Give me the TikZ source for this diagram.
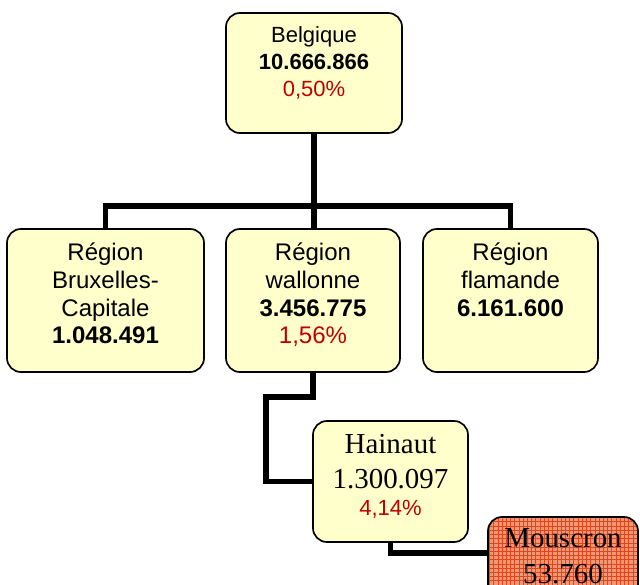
\documentclass[tikz,border=0pt]{standalone}
\usepackage{fontspec}
\setmainfont{Liberation Sans}
\newfontfamily\timesfam{Liberation Serif}
\usetikzlibrary{patterns}
\definecolor{boxfill}{RGB}{255,255,204}
\definecolor{pctred}{RGB}{192,0,0}
\definecolor{moufill}{RGB}{242,150,115}
\definecolor{mougrid}{RGB}{222,70,30}
\newcommand{\boxtext}[4]{\parbox[t][#2][t]{#1}{\centering\rule{0pt}{#3}#4}}
\tikzset{
  orgbox/.style={draw=black, line width=1.2pt, rounded corners=0.35cm, inner sep=0pt, fill=boxfill},
  hotbox/.style={draw=black, line width=1.2pt, rounded corners=0.35cm, inner sep=0pt,
    preaction={fill=moufill}, pattern=grid, pattern color=mougrid},
  link/.style={line width=3.6pt}
}

\begin{document}
\begin{tikzpicture}[x=0.025cm, y=-0.025cm]
  \useasboundingbox (0,0) rectangle (640,585);
  \clip (0,0) rectangle (640,585);
  % boxes
  \node[orgbox] (bel) at (314,73) {\fontsize{15.65pt}{18.85pt}\selectfont
    \boxtext{4.4cm}{3cm}{0.75cm}{Belgique\\\textbf{10.666.866}\\\textcolor{pctred}{0,50\%}}};
  \node[orgbox] (bru) at (105.5,300.5) {\fontsize{17.07pt}{19.6pt}\selectfont
    \boxtext{4.925cm}{3.575cm}{0.8cm}{Région\\Bruxelles-\\Capitale\\\textbf{1.048.491}}};
  \node[orgbox] (wal) at (313,300.5) {\fontsize{17.07pt}{19.6pt}\selectfont
    \boxtext{4.35cm}{3.575cm}{0.8cm}{Région\\wallonne\\\textbf{3.456.775}\\\textcolor{pctred}{1,56\%}}};
  \node[orgbox] (fla) at (510.5,300.5) {\fontsize{17.07pt}{19.6pt}\selectfont
    \boxtext{4.375cm}{3.575cm}{0.8cm}{Région\\flamande\\\textbf{6.161.600}}};
  \node[orgbox] (hai) at (390.5,481.5) {\fontsize{20.6pt}{24.2pt}\selectfont
    \boxtext{3.875cm}{3.025cm}{0.825cm}{{\timesfam Hainaut}\\{\timesfam 1.300.097}\\[-5pt]%
    {\fontsize{15.65pt}{18.85pt}\selectfont\textcolor{pctred}{4,14\%}}}};
  \node[hotbox] (mou) at (563,577) {\fontsize{20.6pt}{24.9pt}\selectfont
    \boxtext{3.75cm}{3cm}{0.775cm}{\timesfam Mouscron\\53.760}};
  % connectors
  \coordinate (bar) at (314,206);
  \draw[link] (bel.south) -- (bar);
  \draw[link] (bru.north) |- (bar) -| (fla.north);
  \draw[link] (bar) -- (bar |- wal.north);
  \coordinate (elbow) at (266,397);
  \draw[link] (wal.south) |- (elbow) |- (hai.west);
  \coordinate (drop) at (0,553);
  \draw[link] (hai.south) |- (drop -| mou.west);
\end{tikzpicture}
\end{document}
